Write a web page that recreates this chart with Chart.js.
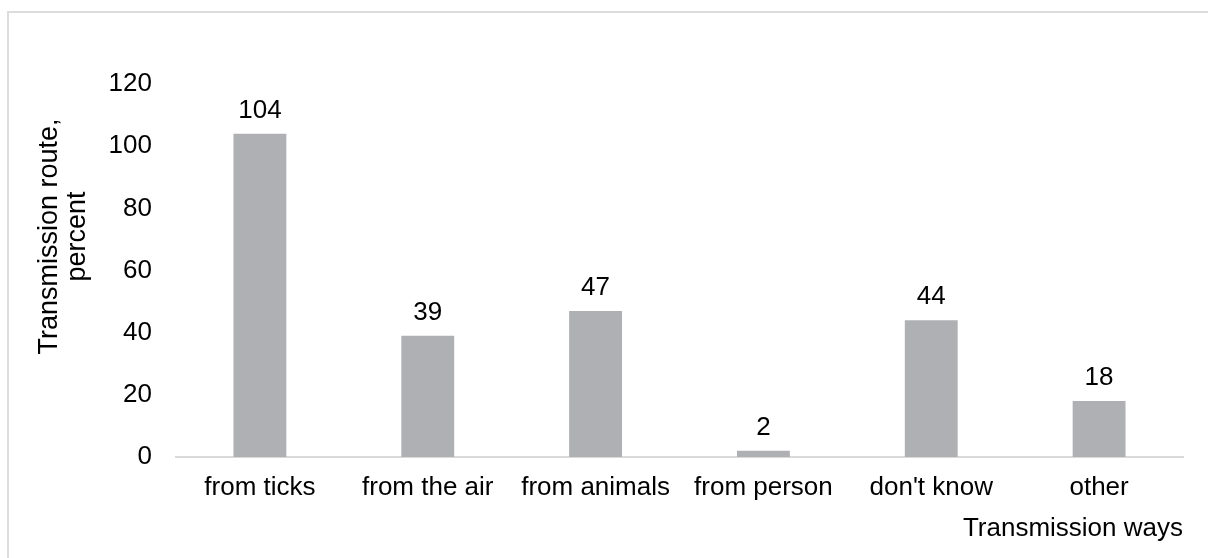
<!DOCTYPE html>
<html>
<head>
<meta charset="utf-8">
<script src="https://cdn.jsdelivr.net/npm/chart.js@4"></script>
<style>
  html, body { margin: 0; padding: 0; background: #fff; }
  .wrap { position: relative; width: 1208px; height: 558px; overflow: hidden; }
  .frame { position: absolute; left: 7px; top: 11px; width: 1300px; height: 600px; border: 2px solid #dcdcdc; }
  canvas { position: absolute; left: 0; top: 0; }
</style>
</head>
<body>
<div class="wrap">
  <div class="frame"></div>
  <canvas id="chart" width="1208" height="558"></canvas>
</div>
<script>
const categories = ["from ticks", "from the air", "from animals", "from person", "don't know", "other"];
const values = [104, 39, 47, 2, 44, 18];
const yTicks = [0, 20, 40, 60, 80, 100, 120];
const yTitle = ["Transmission route,", "percent"];
const xTitle = "Transmission ways";

const FONT = "'Liberation Sans', Arial, sans-serif";

// value above each bar
const barLabels = {
  id: "barLabels",
  afterDatasetsDraw(chart) {
    const ctx = chart.ctx;
    const meta = chart.getDatasetMeta(0);
    ctx.save();
    ctx.font = "26px " + FONT;
    ctx.fillStyle = "#000";
    ctx.textAlign = "center";
    ctx.textBaseline = "alphabetic";
    meta.data.forEach((bar, i) => {
      ctx.fillText(String(values[i]), bar.x, bar.y - 16);
    });
    ctx.restore();
  }
};

// y axis title sits a bit above the middle of the axis, two lines
const yAxisTitle = {
  id: "yAxisTitle",
  afterDraw(chart) {
    const ctx = chart.ctx;
    const area = chart.chartArea;
    const cy = (area.top + area.bottom) / 2 - 34;
    ctx.save();
    ctx.translate(50, cy);
    ctx.rotate(-Math.PI / 2);
    ctx.font = "27px " + FONT;
    ctx.fillStyle = "#000";
    ctx.textAlign = "center";
    ctx.textBaseline = "middle";
    yTitle.forEach((line, i) => ctx.fillText(line, 0, i * 28));
    ctx.restore();
  }
};

new Chart(document.getElementById("chart").getContext("2d"), {
  type: "bar",
  data: {
    labels: categories,
    datasets: [{
      data: values,
      backgroundColor: "#aeb0b3",
      barPercentage: 0.315,
      categoryPercentage: 1
    }]
  },
  options: {
    responsive: false,
    animation: false,
    layout: { padding: { left: 0, top: 84, right: 25, bottom: 0 } },
    plugins: {
      legend: { display: false },
      tooltip: { enabled: false }
    },
    scales: {
      x: {
        grid: { display: false, drawTicks: false },
        border: { color: "#d9d9d9", width: 2 },
        ticks: { color: "#000", font: { family: FONT, size: 26 }, padding: 15, maxRotation: 0 },
        title: {
          display: true,
          text: xTitle,
          align: "end",
          color: "#000",
          font: { family: FONT, size: 26 },
          padding: { top: 0, bottom: 14 }
        },
        afterFit(scale) { scale.height = 101; }
      },
      y: {
        min: 0,
        max: 120,
        grid: { display: false, drawTicks: false },
        border: { display: false },
        afterBuildTicks(scale) { scale.ticks = yTicks.map(v => ({ value: v })); },
        ticks: { color: "#000", font: { family: FONT, size: 26 }, padding: 24 },
        afterFit(scale) { scale.width = 176; }
      }
    }
  },
  plugins: [barLabels, yAxisTitle]
});
</script>
</body>
</html>
